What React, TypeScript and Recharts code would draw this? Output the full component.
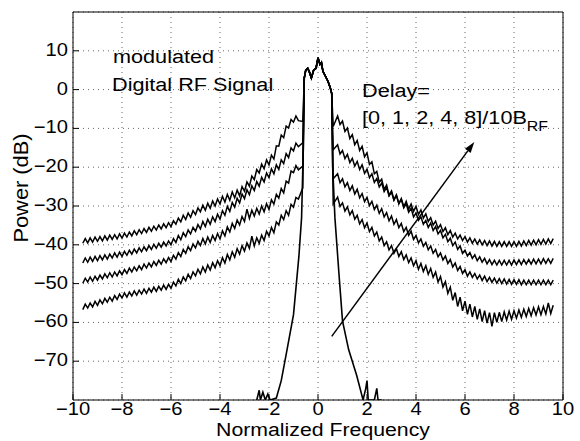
import { LineChart, Line, XAxis, YAxis, CartesianGrid, ReferenceLine } from 'recharts';

// frequency grid for the broad spectra (left and right skirts)
const freqLeft = [
  -9.6, -9.5, -9.4, -9.3, -9.2, -9.1, -9.0, -8.9, -8.8, -8.7, -8.6, -8.5, -8.4, -8.3, -8.2,
  -8.1, -8.0, -7.9, -7.8, -7.7, -7.6, -7.5, -7.4, -7.3, -7.2, -7.1, -7.0, -6.9, -6.8, -6.7,
  -6.6, -6.5, -6.4, -6.3, -6.2, -6.1, -6.0, -5.9, -5.8, -5.7, -5.6, -5.5, -5.4, -5.3, -5.2,
  -5.1, -5.0, -4.9, -4.8, -4.7, -4.6, -4.5, -4.4, -4.3, -4.2, -4.1, -4.0, -3.9, -3.8, -3.7,
  -3.6, -3.5, -3.4, -3.3, -3.2, -3.1, -3.0, -2.9, -2.8, -2.7, -2.6, -2.5, -2.4, -2.3, -2.2,
  -2.1, -2.0, -1.9, -1.8, -1.7, -1.6, -1.5, -1.4, -1.3, -1.2, -1.1, -1.0, -0.9, -0.8,
];
const freqRight = [
  0.8, 0.9, 1.0, 1.1, 1.2, 1.3, 1.4, 1.5, 1.6, 1.7, 1.8, 1.9, 2.0, 2.1, 2.2,
  2.3, 2.4, 2.5, 2.6, 2.7, 2.8, 2.9, 3.0, 3.1, 3.2, 3.3, 3.4, 3.5, 3.6, 3.7,
  3.8, 3.9, 4.0, 4.1, 4.2, 4.3, 4.4, 4.5, 4.6, 4.7, 4.8, 4.9, 5.0, 5.1, 5.2,
  5.3, 5.4, 5.5, 5.6, 5.7, 5.8, 5.9, 6.0, 6.1, 6.2, 6.3, 6.4, 6.5, 6.6, 6.7,
  6.8, 6.9, 7.0, 7.1, 7.2, 7.3, 7.4, 7.5, 7.6, 7.7, 7.8, 7.9, 8.0, 8.1, 8.2,
  8.3, 8.4, 8.5, 8.6, 8.7, 8.8, 8.9, 9.0, 9.1, 9.2, 9.3, 9.4, 9.5, 9.6,
];

// main lobe shared by every curve
const peakFreq = [-0.56, -0.5, -0.42, -0.35, -0.27, -0.18, -0.08, 0, 0.08, 0.14, 0.2, 0.3, 0.41, 0.5, 0.56];
const peakPower = [3, 5, 5.5, 4.5, 3, 5, 5.5, 8.2, 6.5, 7, 4.7, 3.5, 2.1, 0.5, -1];

// delay 0 (no dispersion)
const narrowFreq = [
  -2.5, -2.4, -2.35, -2.25, -2.15, -2.05, -1.95, -1.7, -1.5, -1.28, -1.0, -0.78, -0.67, -0.6,
  -0.56, -0.5, -0.42, -0.35, -0.27, -0.18, -0.08, 0, 0.08, 0.14, 0.2, 0.3, 0.41, 0.5, 0.56,
  0.6, 0.69, 0.85, 1.0, 1.25, 1.58, 1.84, 1.95, 2.0, 2.05, 2.3, 2.4, 2.45, 2.6,
];
const narrowPower = [
  -80, -77.5, -80, -78, -80, -78.5, -80, -79.5, -75, -67.6, -58, -43, -33, -15,
  3, 5, 5.5, 4.5, 3, 5, 5.5, 8.2, 6.5, 7, 4.7, 3.5, 2.1, 0.5, -1,
  -20, -33, -47, -59.6, -67, -73.7, -80, -77, -75, -80, -80, -77, -80, -80,
];

// delays 1, 2, 4, 8 /10B_RF
const delay1Left = [
  -39.6, -38.4, -39.5, -38.2, -39.3, -38.0, -39.1, -37.9, -39.0, -37.7, -38.8, -37.5, -38.6, -37.4, -38.5,
  -37.2, -38.3, -37.0, -38.0, -36.7, -37.7, -36.4, -37.4, -36.1, -37.1, -35.8, -36.8, -35.5, -36.5, -35.2,
  -36.2, -34.9, -35.9, -34.6, -35.6, -34.3, -35.3, -33.8, -34.7, -33.1, -34.1, -32.4, -33.5, -31.8, -32.9,
  -31.2, -32.2, -30.5, -31.5, -29.8, -31.1, -29.3, -30.6, -28.7, -30.0, -28.2, -29.5, -27.5, -29.0, -27.0,
  -28.5, -26.4, -27.9, -25.9, -27.4, -25.0, -26.2, -23.8, -24.9, -22.3, -23.2, -20.6, -21.5, -19.2, -20.4,
  -18.1, -19.4, -16.9, -17.9, -14.5, -14.6, -11.7, -12.4, -9.4, -9.9, -7.7, -8.4, -6.8, -8.0,
];
const delay1Right = [
  -6.8, -9.0, -8.1, -10.8, -9.9, -12.6, -11.6, -14.2, -13.1, -15.7, -14.6, -17.3, -16.3, -19.3, -18.6,
  -21.7, -21.1, -23.9, -23.1, -25.7, -24.6, -27.2, -26.1, -28.4, -27.1, -29.4, -28.1, -30.2, -28.8, -30.8,
  -29.5, -31.4, -30.1, -32.2, -31.0, -33.1, -32.0, -34.0, -33.0, -34.9, -33.9, -35.8, -34.8, -36.6, -35.6,
  -37.4, -36.3, -38.0, -37.0, -38.5, -37.5, -38.9, -37.9, -39.3, -38.2, -39.6, -38.5, -39.8, -38.7, -40.0,
  -38.9, -40.2, -39.0, -40.3, -39.1, -40.4, -39.2, -40.4, -39.2, -40.4, -39.2, -40.4, -39.2, -40.4, -39.1,
  -40.3, -39.0, -40.2, -38.9, -40.1, -38.8, -40.0, -38.7, -39.9, -38.6, -39.8, -38.5, -39.7, -38.4,
];
const delay2Left = [
  -44.7, -43.4, -44.5, -43.2, -44.3, -43.0, -44.1, -42.8, -43.9, -42.6, -43.7, -42.4, -43.4, -42.1, -43.2,
  -41.9, -43.0, -41.7, -42.7, -41.4, -42.4, -41.1, -42.1, -40.8, -41.8, -40.5, -41.5, -40.2, -41.2, -39.9,
  -40.9, -39.6, -40.6, -39.3, -40.3, -39.0, -40.0, -38.4, -39.4, -37.6, -38.7, -36.9, -37.9, -36.2, -37.2,
  -35.5, -36.5, -34.8, -35.9, -34.0, -35.3, -33.4, -34.7, -32.8, -34.0, -32.1, -33.4, -31.2, -32.4, -30.1,
  -31.4, -29.1, -30.3, -28.0, -29.2, -26.9, -28.1, -25.8, -27.1, -24.8, -26.0, -23.7, -24.9, -22.6, -23.8,
  -21.5, -22.7, -20.4, -21.7, -19.4, -20.6, -18.1, -19.1, -16.5, -17.5, -15.0, -15.8, -13.8, -14.7,
];
const delay2Right = [
  -14.2, -16.6, -15.7, -17.8, -16.7, -18.8, -17.7, -19.7, -18.5, -20.6, -19.4, -21.6, -20.5, -22.7, -21.7,
  -23.9, -22.9, -25.1, -24.1, -26.3, -25.2, -27.4, -26.4, -28.5, -27.3, -29.4, -28.3, -30.5, -29.4, -31.6,
  -30.6, -32.8, -31.8, -33.7, -32.8, -34.7, -33.7, -35.5, -34.4, -36.3, -35.3, -37.2, -36.3, -38.2, -37.3,
  -39.2, -38.3, -40.2, -39.3, -41.2, -40.3, -42.2, -41.4, -42.9, -42.0, -43.5, -42.6, -44.1, -43.1, -44.5,
  -43.5, -44.9, -43.8, -45.1, -44.0, -45.2, -44.0, -45.2, -44.0, -45.2, -44.0, -45.2, -43.9, -45.1, -43.9,
  -45.1, -43.8, -45.0, -43.8, -45.0, -43.7, -44.9, -43.7, -44.9, -43.6, -44.8, -43.6, -44.8, -43.5,
];
const delay4Left = [
  -49.9, -48.6, -49.6, -48.3, -49.4, -48.1, -49.1, -47.8, -48.8, -47.5, -48.5, -47.2, -48.3, -47.0, -48.0,
  -46.7, -47.7, -46.4, -47.4, -46.0, -47.0, -45.7, -46.7, -45.4, -46.4, -45.0, -46.0, -44.7, -45.7, -44.3,
  -45.3, -44.0, -45.0, -43.6, -44.6, -43.3, -44.3, -42.7, -43.7, -42.0, -43.0, -41.2, -42.2, -40.5, -41.5,
  -39.8, -40.8, -39.1, -40.2, -38.4, -39.8, -38.0, -39.4, -37.6, -38.9, -37.1, -38.5, -36.4, -37.7, -35.4,
  -36.7, -34.5, -35.8, -33.6, -34.9, -32.7, -34.0, -30.8, -33.2, -31.1, -32.6, -30.6, -32.1, -30.0, -31.5,
  -29.4, -30.9, -28.4, -29.5, -27.0, -28.0, -25.5, -26.6, -23.6, -24.1, -21.0, -21.4, -19.6, -20.7,
];
const delay4Right = [
  -21.7, -24.0, -23.0, -25.1, -24.0, -26.0, -24.8, -26.9, -25.7, -27.9, -26.8, -28.9, -27.8, -29.9, -28.8,
  -30.9, -29.8, -31.9, -30.7, -32.8, -31.7, -33.8, -32.6, -34.7, -33.5, -35.6, -34.5, -36.6, -35.5, -37.6,
  -36.5, -38.6, -37.6, -39.5, -38.5, -40.4, -39.4, -41.3, -40.3, -42.2, -41.2, -43.1, -42.1, -43.9, -42.9,
  -44.8, -43.8, -45.7, -44.7, -46.6, -45.6, -47.4, -46.4, -48.1, -47.0, -48.4, -47.4, -48.8, -47.8, -49.2,
  -48.1, -49.5, -48.4, -49.7, -48.6, -49.9, -48.7, -50.0, -48.8, -50.1, -48.9, -50.2, -49.0, -50.2, -49.0,
  -50.3, -49.1, -50.3, -49.1, -50.3, -49.1, -50.3, -49.1, -50.3, -49.1, -50.3, -49.1, -50.3, -49.1,
];
const delay8Left = [
  -56.7, -55.3, -56.3, -55.0, -56.0, -54.6, -55.6, -54.2, -55.2, -53.8, -54.8, -53.5, -54.5, -53.1, -54.1,
  -52.7, -53.7, -52.4, -53.5, -52.2, -53.2, -51.9, -53.0, -51.7, -52.7, -51.4, -52.5, -51.2, -52.2, -50.9,
  -52.0, -50.7, -51.7, -50.4, -51.5, -50.2, -51.2, -49.6, -50.6, -48.9, -50.0, -48.3, -49.3, -47.6, -48.7,
  -47.0, -48.0, -46.3, -47.5, -45.7, -47.0, -45.2, -46.5, -44.6, -45.9, -44.1, -45.4, -43.3, -44.7, -42.5,
  -43.9, -41.8, -43.2, -41.0, -42.4, -40.2, -41.6, -39.5, -40.9, -37.8, -40.3, -38.2, -39.6, -37.5, -38.9,
  -36.5, -37.7, -35.5, -36.9, -34.1, -34.9, -32.4, -33.5, -31.2, -32.4, -29.6, -30.3, -27.8, -28.2,
];
const delay8Right = [
  -27.7, -30.1, -29.2, -31.3, -30.2, -32.3, -31.2, -33.4, -32.4, -34.6, -33.5, -35.6, -34.4, -36.6, -35.5,
  -37.7, -36.7, -39.0, -38.0, -40.2, -39.2, -41.3, -40.2, -42.2, -41.0, -43.0, -41.8, -43.8, -42.6, -44.6,
  -43.4, -45.4, -44.1, -46.3, -44.8, -46.9, -45.4, -47.6, -46.1, -48.4, -47.0, -49.6, -48.2, -50.9, -49.5,
  -52.5, -50.9, -54.3, -52.3, -55.9, -53.5, -57.0, -54.5, -57.9, -55.3, -58.6, -55.9, -59.2, -56.5, -59.8,
  -57.0, -60.2, -57.5, -61.0, -57.5, -60.0, -57.4, -59.8, -57.3, -59.4, -57.1, -59.2, -57.0, -58.9, -56.8,
  -58.7, -56.6, -58.5, -56.4, -58.3, -56.2, -58.1, -56.0, -58.0, -55.9, -57.8, -55.0, -57.7, -55.6,
];
const shoulderLeft = [-8.2, -13.7, -19.7, -25.3];
const shoulderRight = [-9.5, -15.5, -23.0, -29.5];

const xTicks = [-10, -8, -6, -4, -2, 0, 2, 4, 6, 8, 10];
const yTicks = [-70, -60, -50, -40, -30, -20, -10, 0, 10];
const arrowFrom = { f: 0.56, p: -63.6 };
const arrowTo = { f: 6.38, p: -13.5 };

const FONT = '"Liberation Sans", Arial, Helvetica, sans-serif';
const STRETCH = 1.12; // the scanned figure is slightly wider than tall

function buildBroad(left: number[], right: number[], i: number) {
  return [
    ...freqLeft.map((f, k) => ({ f, p: left[k] })),
    { f: -0.62, p: shoulderLeft[i] },
    ...peakFreq.map((f, k) => ({ f, p: peakPower[k] })),
    { f: 0.62, p: shoulderRight[i] },
    ...freqRight.map((f, k) => ({ f, p: right[k] })),
  ];
}

const narrowData = narrowFreq.map((f, k) => ({ f, p: narrowPower[k] }));
const broadSeries = [
  buildBroad(delay1Left, delay1Right, 0),
  buildBroad(delay2Left, delay2Right, 1),
  buildBroad(delay4Left, delay4Right, 2),
  buildBroad(delay8Left, delay8Right, 3),
];

const minus = (v: number) => String(v).replace('-', '\u2212');

const XTick = (props: any) => {
  const { x, y, payload } = props;
  return (
    <text transform={`translate(${x},${y + 11}) scale(${STRETCH},1)`} textAnchor="middle"
      fontSize={18} fontFamily={FONT} fill="#000">
      {minus(payload.value)}
    </text>
  );
};

const YTick = (props: any) => {
  const { x, y, payload } = props;
  return (
    <text transform={`translate(${x},${y + 5}) scale(${STRETCH},1)`} textAnchor="end"
      fontSize={18} fontFamily={FONT} fill="#000">
      {minus(payload.value)}
    </text>
  );
};

const Arrow = (props: any) => {
  const { x1, y1, x2, y2 } = props;
  const a = Math.atan2(y2 - y1, x2 - x1);
  const len = 11;
  const half = 3.5;
  const bx = x2 - len * Math.cos(a);
  const by = y2 - len * Math.sin(a);
  const pts = `${x2},${y2} ${bx + half * Math.sin(a)},${by - half * Math.cos(a)} ${bx - half * Math.sin(a)},${by + half * Math.cos(a)}`;
  return (
    <g>
      <line x1={x1} y1={y1} x2={bx} y2={by} stroke="#000" strokeWidth={1.5} />
      <polygon points={pts} fill="#000" />
    </g>
  );
};

const Note = ({ x, y, children }: { x: number; y: number; children: any }) => (
  <text transform={`translate(${x},${y}) scale(1.14,1)`} fontSize={19} fill="#000">
    {children}
  </text>
);

export default function App() {
  return (
    <div style={{ position: 'absolute', left: 0, top: 0, width: 580, height: 441, background: '#fff' }}>
      <LineChart width={580} height={441} margin={{ top: 11, right: 16, bottom: 0, left: 0 }}>
        <CartesianGrid stroke="#666" strokeDasharray="1 4" />
        <XAxis
          dataKey="f"
          type="number"
          domain={[-10, 10]}
          ticks={xTicks}
          interval={0}
          height={41}
          tickSize={-6}
          tickMargin={10}
          tick={<XTick />}
          stroke="#000"
          allowDuplicatedCategory={false}
        />
        <XAxis
          xAxisId="top"
          orientation="top"
          type="number"
          domain={[-10, 10]}
          ticks={xTicks}
          height={1}
          tickSize={-6}
          tick={false}
          stroke="#000"
        />
        <YAxis
          type="number"
          domain={[-80, 20]}
          ticks={yTicks}
          interval={0}
          width={73}
          tickSize={-6}
          tickMargin={11}
          tick={<YTick />}
          stroke="#000"
          allowDataOverflow
        />
        <YAxis
          yAxisId="right"
          orientation="right"
          type="number"
          domain={[-80, 20]}
          ticks={yTicks}
          width={1}
          tickSize={-6}
          tick={false}
          stroke="#000"
        />
        {broadSeries.map((d, i) => (
          <Line
            key={i}
            data={d}
            dataKey="p"
            type="linear"
            stroke="#000"
            strokeWidth={1.5}
            dot={false}
            isAnimationActive={false}
          />
        ))}
        <Line
          data={narrowData}
          dataKey="p"
          type="linear"
          stroke="#000"
          strokeWidth={1.6}
          dot={false}
          isAnimationActive={false}
        />
        <ReferenceLine
          segment={[{ x: arrowFrom.f, y: arrowFrom.p }, { x: arrowTo.f, y: arrowTo.p }]}
          shape={Arrow}
        />
      </LineChart>
      <svg
        width={580}
        height={441}
        style={{ position: 'absolute', left: 0, top: 0, pointerEvents: 'none' }}
        fontFamily={FONT}
      >
        <Note x={113} y={63}>modulated</Note>
        <Note x={112} y={91}>Digital RF Signal</Note>
        <Note x={362} y={97}>Delay=</Note>
        <Note x={362} y={124}>
          [0, 1, 2, 4, 8]/10B<tspan dy={7} fontSize={14}>RF</tspan>
        </Note>
        <text transform={`translate(323,436) scale(${STRETCH},1)`} fontSize={19} fill="#000" textAnchor="middle">
          Normalized Frequency
        </text>
        <text transform={`translate(28,188) rotate(-90) scale(${STRETCH},1)`} fontSize={19.5} fill="#000" textAnchor="middle">
          Power (dB)
        </text>
      </svg>
    </div>
  );
}
